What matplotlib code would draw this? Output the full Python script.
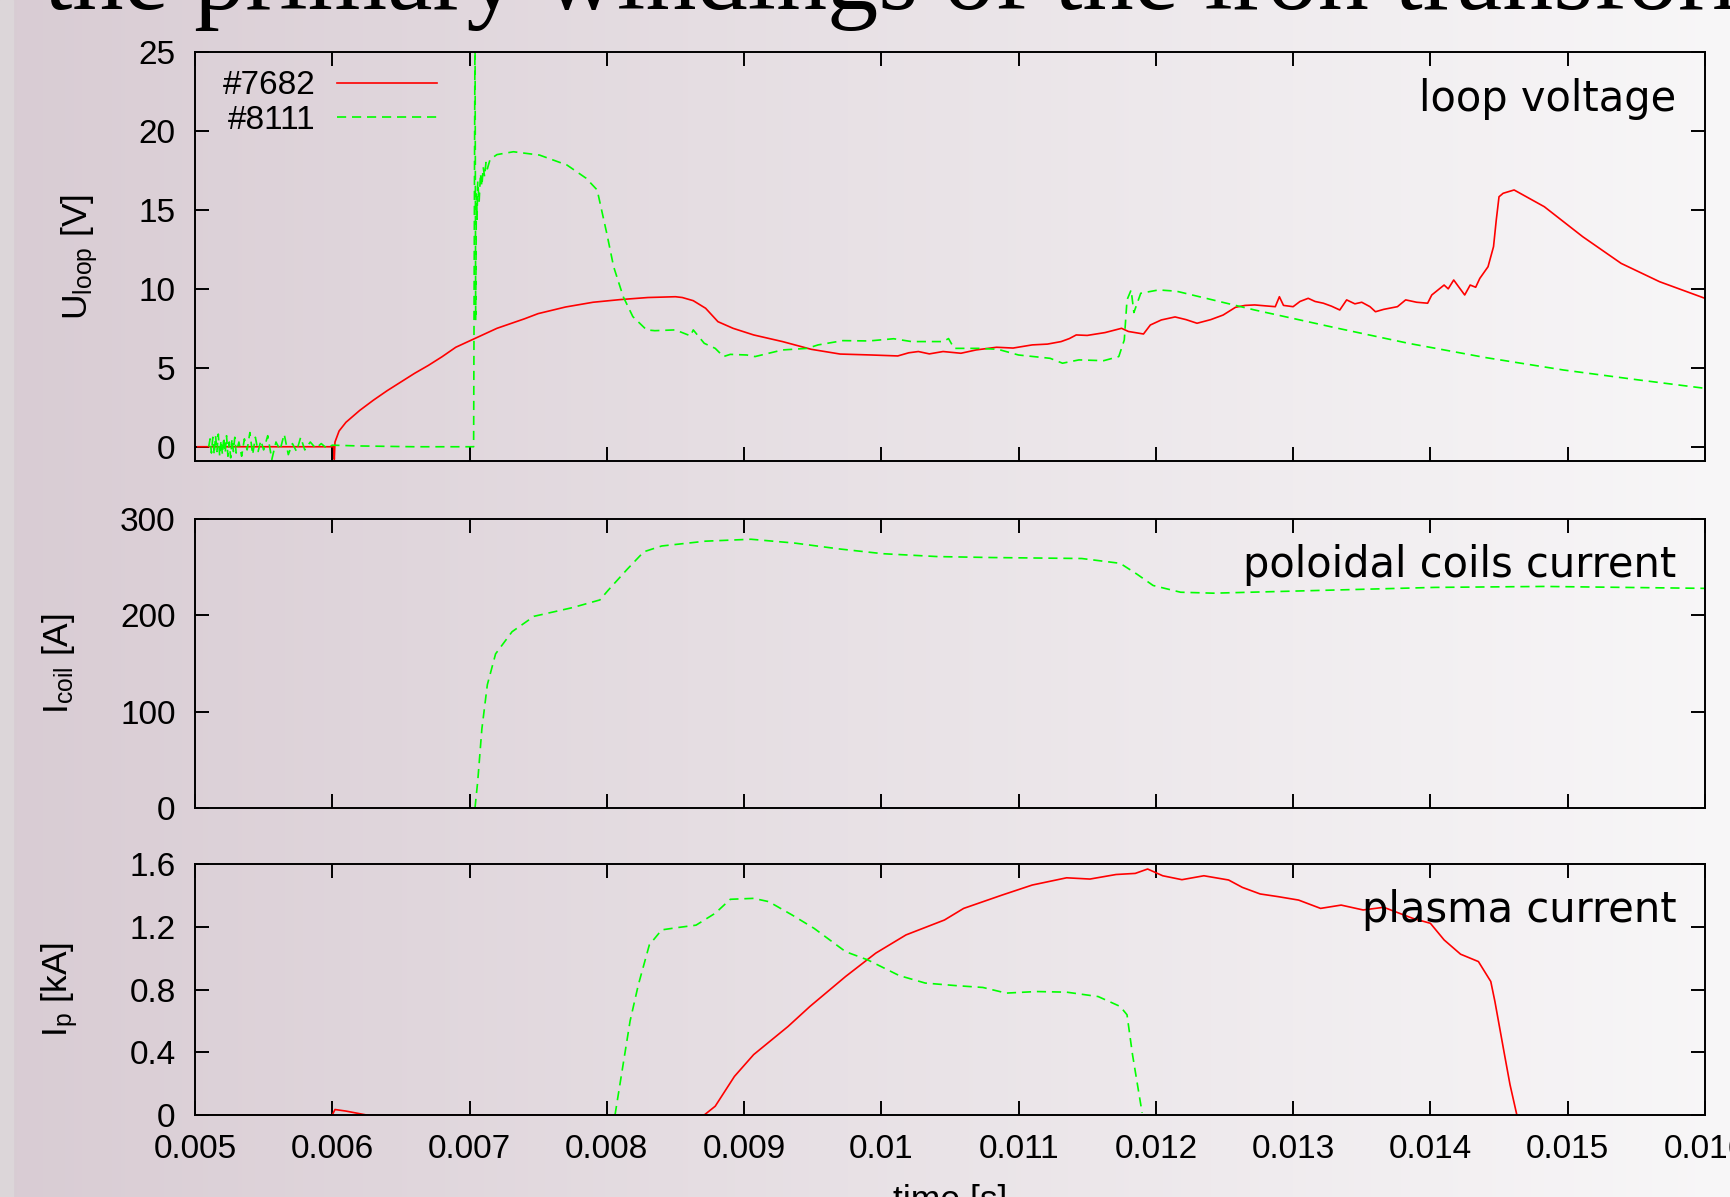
import numpy as np
import matplotlib
matplotlib.use('Agg')
import matplotlib.pyplot as plt
from matplotlib.ticker import MultipleLocator, FuncFormatter

plt.rcParams['font.family'] = ['Liberation Sans', 'DejaVu Sans']
plt.rcParams['mathtext.fontset'] = 'custom'
plt.rcParams['mathtext.rm'] = 'Liberation Sans'
plt.rcParams['mathtext.it'] = 'Liberation Sans:italic'

# ---- loop voltage, shot #7682 (red) ----
t_u7682 = [0.00502, 0.00601, 0.006015, 0.00602, 0.00605, 0.0061, 0.0062, 0.0063, 0.0064,
           0.0065, 0.0066, 0.0067, 0.0068, 0.0069, 0.00705, 0.0072, 0.0074, 0.0075, 0.0077,
           0.0079, 0.0081, 0.0083, 0.0085, 0.00855, 0.00863, 0.00872, 0.00881, 0.00892,
           0.00907, 0.00928, 0.00949, 0.00970, 0.00993, 0.01012, 0.01020, 0.01027, 0.01035,
           0.01045, 0.01058, 0.01069, 0.01084, 0.01096, 0.01110, 0.01121, 0.01131, 0.01137,
           0.01142, 0.01150, 0.01163, 0.01175, 0.01180, 0.01191, 0.01196, 0.01204, 0.01214,
           0.01222, 0.01230, 0.01240, 0.01249, 0.01258, 0.01265, 0.01272, 0.01280, 0.01287,
           0.01290, 0.01293, 0.01300, 0.01305, 0.01311, 0.01316, 0.01322, 0.01328, 0.01334,
           0.01339, 0.01345, 0.01350, 0.01356, 0.01360, 0.01366, 0.01376, 0.01382, 0.01390,
           0.01398, 0.01401, 0.01410, 0.01413, 0.01417, 0.01420, 0.01425, 0.01429, 0.01433,
           0.01436, 0.01442, 0.01446, 0.01448, 0.01450, 0.01453, 0.01461, 0.01483, 0.01511,
           0.01539, 0.01567, 0.01600]
u7682 = [0, 0, -0.8, 0.3, 1.0, 1.55, 2.3, 2.95, 3.55,
         4.1, 4.65, 5.15, 5.7, 6.3, 6.9, 7.5, 8.1, 8.43, 8.85,
         9.15, 9.32, 9.45, 9.5, 9.45, 9.25, 8.77, 7.92, 7.50,
         7.08, 6.66, 6.17, 5.87, 5.81, 5.75, 5.95, 6.03, 5.88,
         6.03, 5.92, 6.13, 6.30, 6.25, 6.45, 6.50, 6.66, 6.85,
         7.08, 7.05, 7.23, 7.50, 7.30, 7.14, 7.71, 8.03, 8.22,
         8.05, 7.82, 8.05, 8.34, 8.83, 8.95, 8.98, 8.92, 8.87,
         9.50, 8.95, 8.87, 9.20, 9.40, 9.20, 9.09, 8.90, 8.66,
         9.30, 9.05, 9.15, 8.87, 8.55, 8.70, 8.87, 9.30, 9.15,
         9.09, 9.61, 10.24, 10.0, 10.56, 10.2, 9.61, 10.24, 10.1,
         10.66, 11.40, 12.67, 14.36, 15.83, 16.05, 16.26, 15.20, 13.30,
         11.61, 10.45, 9.40]

# ---- loop voltage, shot #8111 (green) ----
t_u8111 = [0.00510, 0.00511, 0.00512, 0.00513, 0.00514, 0.00515, 0.00516, 0.00517, 0.00518,
           0.00519, 0.00520, 0.00521, 0.00522, 0.00523, 0.00524, 0.00525, 0.00526, 0.00527,
           0.00528, 0.00529, 0.00530, 0.00532, 0.00534, 0.00536, 0.00538, 0.00540, 0.00542,
           0.00544, 0.00546, 0.00548, 0.00550, 0.00553, 0.00556, 0.00559, 0.00562, 0.00565,
           0.00568, 0.00571, 0.00574, 0.00577, 0.00580, 0.00584, 0.00588, 0.00592, 0.00596,
           0.00600, 0.0062, 0.0066, 0.00703, 0.00704, 0.007045, 0.00705, 0.007055, 0.00706,
           0.00707, 0.00708, 0.00709, 0.00710, 0.00711, 0.00712, 0.00713, 0.00715, 0.00720,
           0.00732, 0.00751, 0.00771, 0.00785, 0.00793, 0.00800, 0.00805, 0.00812, 0.00819,
           0.00829, 0.00835, 0.00850, 0.00861, 0.00863, 0.00871, 0.00879, 0.00885, 0.00890,
           0.00902, 0.00908, 0.00928, 0.00946, 0.00954, 0.00972, 0.00991, 0.01009, 0.01022,
           0.01045, 0.01049, 0.01053, 0.01071, 0.01085, 0.01100, 0.01123, 0.01132, 0.01144,
           0.01162, 0.01173, 0.01177, 0.01179, 0.01182, 0.01184, 0.01189, 0.01202, 0.01215,
           0.01272, 0.01330, 0.01384, 0.01440, 0.01497, 0.01550, 0.01600]
u8111 = [0, 0.5, -0.4, 0.6, -0.5, 0.7, -0.3, 0.8, -0.6,
         0.4, -0.5, 0.6, -0.4, 0.7, -0.6, 0.3, -0.7, 0.5,
         -0.3, 0.6, -0.4, 0.3, -0.6, 0.5, -0.2, 0.9, -0.5,
         0.6, -0.3, 0.4, -0.2, 0.7, -0.8, 0.3, -0.2, 0.8,
         -0.5, 0.2, -0.3, 0.6, -0.2, 0.3, -0.1, 0.2, -0.1,
         0.1, 0.05, 0, 0, 27, 8, 16.0, 14.4, 16.8,
         15.5, 17.3, 16.5, 17.7, 17.1, 18.0, 17.6, 18.2, 18.5,
         18.68, 18.47, 17.84, 17.00, 16.26, 13.51, 11.40, 9.50, 8.24,
         7.40, 7.35, 7.40, 7.02, 7.40, 6.55, 6.23, 5.71, 5.85,
         5.81, 5.71, 6.13, 6.23, 6.45, 6.72, 6.70, 6.84, 6.66,
         6.66, 6.85, 6.23, 6.23, 6.17, 5.81, 5.60, 5.29, 5.50,
         5.45, 5.71, 6.76, 9.30, 9.93, 8.5, 9.72, 9.93, 9.85,
         8.66, 7.55, 6.55, 5.65, 4.86, 4.25, 3.70]

# ---- poloidal coils current, shot #8111 ----
t_coil = [0.00704, 0.00706, 0.00709, 0.00713, 0.00719, 0.00731, 0.00747, 0.00775, 0.00795,
          0.00801, 0.00815, 0.00827, 0.00840, 0.00872, 0.00905, 0.00937, 0.00969, 0.01001,
          0.01041, 0.01081, 0.01146, 0.01174, 0.01186, 0.01198, 0.01218, 0.01242, 0.01323,
          0.01403, 0.01483, 0.01600]
i_coil = [0, 28, 82, 128, 160, 183, 199, 208, 216,
          226, 248, 266, 272, 277, 279, 275, 269, 264,
          261, 260, 259, 254, 243, 231, 224, 223, 226,
          229, 230, 228]

# ---- plasma current ----
t_ip7682 = [0.005, 0.00600, 0.00602, 0.00610, 0.00625, 0.00871, 0.00879, 0.00893, 0.00907,
            0.00932, 0.00948, 0.00974, 0.00996, 0.01018, 0.01046, 0.01060, 0.01088, 0.01110,
            0.01135, 0.01152, 0.01171, 0.01185, 0.01194, 0.01205, 0.01219, 0.01235, 0.01253,
            0.01263, 0.01276, 0.01289, 0.01304, 0.01320, 0.01335, 0.01351, 0.01366, 0.01387,
            0.01400, 0.01410, 0.01422, 0.01435, 0.01444, 0.01447, 0.01454, 0.01458, 0.01463]
ip7682 = [0, 0, 0.035, 0.025, 0, 0, 0.056, 0.246, 0.385,
          0.564, 0.692, 0.883, 1.032, 1.148, 1.243, 1.317, 1.402, 1.466,
          1.512, 1.504, 1.533, 1.54, 1.568, 1.525, 1.50, 1.525, 1.498,
          1.451, 1.409, 1.392, 1.370, 1.317, 1.338, 1.307, 1.324, 1.254,
          1.222, 1.116, 1.025, 0.978, 0.851, 0.724, 0.385, 0.194, 0.0]

t_ip8111 = [0.00806, 0.00817, 0.00823, 0.00831, 0.00840, 0.00851, 0.00865, 0.00879, 0.00890,
            0.00907, 0.00918, 0.00935, 0.00951, 0.00974, 0.00990, 0.01013, 0.01032, 0.01054,
            0.01074, 0.01091, 0.01113, 0.01135, 0.01158, 0.01174, 0.01179, 0.01183, 0.01190]
ip8111 = [0, 0.60, 0.83, 1.084, 1.18, 1.194, 1.21, 1.286, 1.375,
          1.381, 1.36, 1.275, 1.19, 1.041, 0.989, 0.889, 0.841, 0.825,
          0.813, 0.777, 0.787, 0.783, 0.755, 0.692, 0.639, 0.385, 0.014]

RED = '#ff0000'
GREEN = '#00ff00'
DASH = (5.5, 3.5)
FS = 24
FS_LAB = 25.5

fig = plt.figure(figsize=(17.3, 11.97), dpi=100)

# slide background gradient
bg = fig.add_axes([0, 0, 1, 1], zorder=-10)
g = np.linspace(0, 1, 400)[:, None]
c_left = np.array([0.85, 0.80, 0.83])
c_right = np.array([0.972, 0.968, 0.972])
bg.imshow((c_left * (1 - g) + c_right * g)[None, :, :], aspect='auto', extent=[0, 1, 0, 1])
bg.axvspan(0, 13 / 1730, color='#dcd6d9')
bg.set_xlim(0, 1); bg.set_ylim(0, 1)
bg.axis('off')

# slide heading, cut by the crop
fig.text(44 / 1730, 1 - 9 / 1197, 'the primary windings of the iron transformer',
         family='Liberation Serif', fontsize=73.5, ha='left', va='baseline')

ax1 = fig.add_axes([0.1127, 0.6149, 0.8728, 0.3417])
ax2 = fig.add_axes([0.1127, 0.3250, 0.8728, 0.2414])
ax3 = fig.add_axes([0.1127, 0.0685, 0.8728, 0.2097])

ax1.plot(t_u7682, u7682, color=RED, lw=1.2, label='#7682')
ax1.plot(t_u8111, u8111, color=GREEN, lw=1.2, dashes=DASH, label='#8111')
ax2.plot(t_coil, i_coil, color=GREEN, lw=1.2, dashes=DASH)
ax3.plot(t_ip7682, ip7682, color=RED, lw=1.2)
ax3.plot(t_ip8111, ip8111, color=GREEN, lw=1.2, dashes=DASH)

ax1.set_ylim(-0.9, 25); ax1.yaxis.set_major_locator(MultipleLocator(5))
ax2.set_ylim(0, 300); ax2.yaxis.set_major_locator(MultipleLocator(100))
ax3.set_ylim(0, 1.6); ax3.yaxis.set_major_locator(MultipleLocator(0.4))

fmt = FuncFormatter(lambda v, p: '%g' % round(v, 6))
for ax in (ax1, ax2, ax3):
    ax.set_facecolor('none')
    ax.set_xlim(0.005, 0.016)
    ax.xaxis.set_major_locator(MultipleLocator(0.001))
    ax.xaxis.set_major_formatter(fmt)
    ax.yaxis.set_major_formatter(fmt)
    ax.tick_params(direction='in', top=True, right=True, length=10, width=1.4,
                   labelsize=FS, pad=14)
    for s in ax.spines.values():
        s.set_linewidth(1.4)
for ax in (ax1, ax2):
    ax.tick_params(labelbottom=False)

ax1.set_ylabel(r'U$_{\mathrm{loop}}$ [V]', fontsize=FS_LAB)
ax2.set_ylabel(r'I$_{\mathrm{coil}}$ [A]', fontsize=FS_LAB)
ax3.set_ylabel(r'I$_{\mathrm{p}}$ [kA]', fontsize=FS_LAB)
ax1.yaxis.set_label_coords(-0.063, 0.5)
ax2.yaxis.set_label_coords(-0.078, 0.5)
ax3.yaxis.set_label_coords(-0.076, 0.5)
ax3.set_xlabel('time [s]', fontsize=FS_LAB, labelpad=13)

ax1.text(0.981, 0.856, 'loop voltage', transform=ax1.transAxes, ha='right',
         va='baseline', family='DejaVu Sans', fontsize=30)
ax2.text(0.981, 0.80, 'poloidal coils current', transform=ax2.transAxes, ha='right',
         va='baseline', family='DejaVu Sans', fontsize=30)
ax3.text(0.981, 0.767, 'plasma current', transform=ax3.transAxes, ha='right',
         va='baseline', family='DejaVu Sans', fontsize=30)

ax1.legend(loc='upper left', bbox_to_anchor=(0.0185, 0.955), frameon=False,
           markerfirst=False, handlelength=3.0, handletextpad=0.65, labelspacing=0.1,
           borderpad=0, borderaxespad=0, fontsize=FS)

fig.savefig('out.png', dpi=100)
